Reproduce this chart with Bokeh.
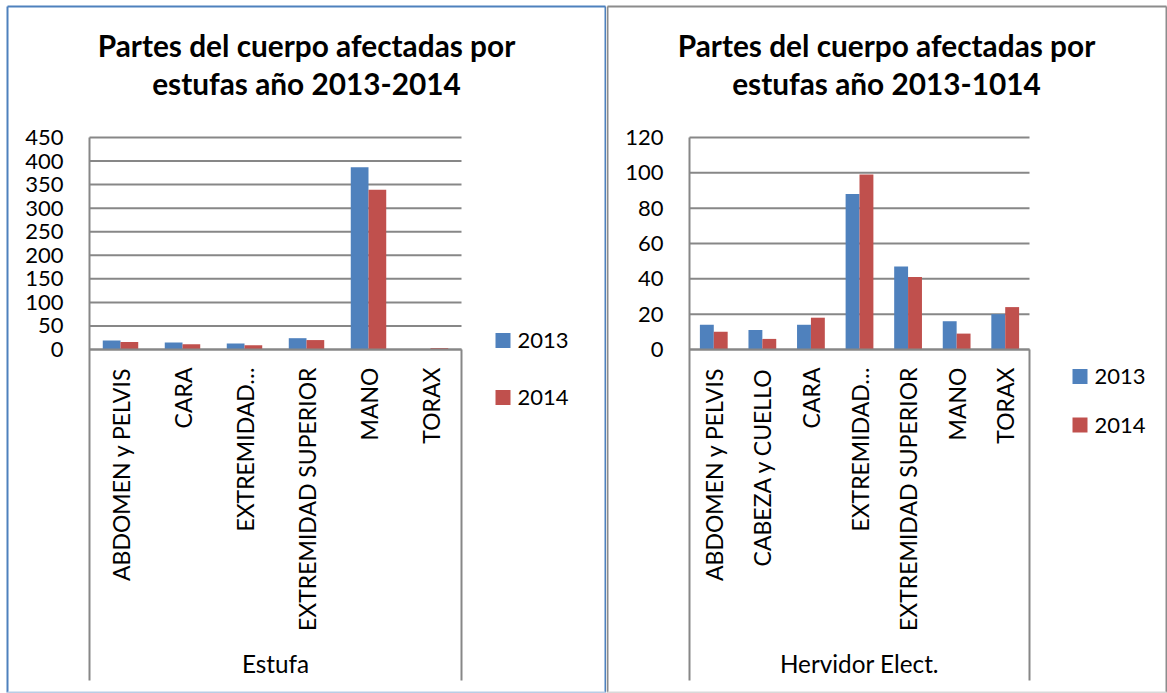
import math
from bokeh.plotting import figure
from bokeh.models import Range1d, ColumnDataSource
from bokeh.transform import dodge
from bokeh.layouts import row
from bokeh.embed import file_html
from bokeh.resources import INLINE
from bokeh.core.properties import value

# ---------------- data ----------------
years = ["2013", "2014"]

estufa_title = ["Partes del cuerpo afectadas por", "estufas año 2013-2014"]
estufa_group = "Estufa"
estufa_parts = ["ABDOMEN y PELVIS", "CARA", "EXTREMIDAD…", "EXTREMIDAD SUPERIOR", "MANO", "TORAX"]
estufa_2013 = [19, 15, 13, 24, 387, 1]
estufa_2014 = [16, 11, 9, 20, 339, 3]
estufa_ticks = [0, 50, 100, 150, 200, 250, 300, 350, 400, 450]

hervidor_title = ["Partes del cuerpo afectadas por", "estufas año 2013-1014"]
hervidor_group = "Hervidor Elect."
hervidor_parts = ["ABDOMEN y PELVIS", "CABEZA y CUELLO", "CARA", "EXTREMIDAD…",
                  "EXTREMIDAD SUPERIOR", "MANO", "TORAX"]
hervidor_2013 = [14, 11, 14, 88, 47, 16, 20]
hervidor_2014 = [10, 6, 18, 99, 41, 9, 24]
hervidor_ticks = [0, 20, 40, 60, 80, 100, 120]

# ---------------- style / layout (page pixels) ----------------
BLUE = "#4F81BD"
RED = "#C0504D"
GRID = "#878787"
FONT = value("Lato")
TICK_FS = "22px"
CAT_FS = "23px"
GROUP_FS = "24.3px"
LEG_FS = "22px"
TITLE_FS = "29.8px"
H = 693
TOP = 137        # y of the highest gridline
ZERO = 349       # y of value 0
BOTTOM = 680     # lower end of the category axis box
BAR_W = 0.286


def panel(ox, width, fx0, fx1, title, title_cx, group, parts, v13, v14, ticks,
          leg_x, leg_y, border_color, bottom_color):
    n = len(parts)
    ymax = ticks[-1]
    ppu = (ZERO - TOP) / ymax                 # pixels per value unit
    cat_px = (fx1 - fx0) / n                  # pixels per category

    def xs(px):      # page x -> x coordinate (one unit per category)
        return (px - fx0) / cat_px

    def ys(py):      # page y -> data value
        return (ZERO - py) / ppu

    p = figure(width=width, height=H, x_range=Range1d(xs(ox), xs(ox + width)),
               y_range=Range1d(ys(H), ys(0)), output_backend="svg",
               toolbar_location=None, x_axis_location=None, y_axis_location=None,
               min_border=0)
    p.outline_line_color = None
    p.background_fill_color = "white"
    p.border_fill_color = "white"
    for g in p.grid:
        g.visible = False

    pos = [i + 0.5 for i in range(n)]
    src = ColumnDataSource(dict(x=pos, label=parts, y13=v13, y14=v14))
    tsrc = ColumnDataSource(dict(y=ticks, label=[str(t) for t in ticks]))

    # horizontal gridlines at the ticks
    p.segment(x0=0, x1=n, y0="y", y1="y", source=tsrc, line_color=GRID, line_width=2)

    # bars
    p.vbar(x=dodge("x", -BAR_W / 2), top="y13", width=BAR_W, source=src,
           fill_color=BLUE, line_color=None)
    p.vbar(x=dodge("x", BAR_W / 2), top="y14", width=BAR_W, source=src,
           fill_color=RED, line_color=None)

    # axis lines: value axis (extended down around the category box),
    # category axis at 0, closing line on the right of the category box
    y_low = ys(BOTTOM)
    p.segment(x0=[0, 0, n], x1=[0, n, n], y0=[y_low, 0, y_low], y1=[ymax, 0, 0],
              line_color=GRID, line_width=2)

    # value tick labels
    p.text(x=0, y="y", text="label", source=tsrc, x_offset=-26, text_align="right",
           text_baseline="middle", text_font=FONT, text_font_size=TICK_FS,
           text_color="black")

    # category labels (vertical) and group label
    p.text(x="x", y=0, text="label", source=src, angle=math.pi / 2,
           text_align="right", text_baseline="middle", y_offset=18,
           text_font=FONT, text_font_size=CAT_FS, text_color="black")
    p.text(x=[n / 2], y=[0], text=[group], y_offset=314, text_align="center",
           text_baseline="middle", text_font=FONT, text_font_size=GROUP_FS,
           text_color="black")

    # title (two lines)
    p.text(x=[xs(title_cx)] * 2, y=[ys(45), ys(83)], text=title, text_align="center",
           text_baseline="middle", text_font=FONT, text_font_style="bold",
           text_font_size=TITLE_FS, text_color="black")

    # legend
    lx = xs(leg_x + 7.5)
    p.rect(x=[lx, lx], y=[ys(c) for c in leg_y], width=15, height=15,
           width_units="screen", height_units="screen", fill_color=[BLUE, RED],
           line_color=None)
    p.text(x=[xs(leg_x + 22)] * 2, y=[ys(c) for c in leg_y], text=years,
           text_align="left", text_baseline="middle", text_font=FONT,
           text_font_size=LEG_FS, text_color="black")

    # panel border
    bl, br, bt, bb = xs(max(ox, 6) + 1), xs(ox + width - 1), ys(6), ys(H - 1)
    p.segment(x0=[bl, bl, br], x1=[bl, br, br], y0=[bb, bt, bt], y1=[bt, bt, bb],
              line_color=border_color, line_width=2)
    p.segment(x0=[bl], x1=[br], y0=[bb], y1=[bb], line_color=bottom_color, line_width=2)
    return p


left = panel(0, 606, 89, 461, estufa_title, 306, estufa_group, estufa_parts,
             estufa_2013, estufa_2014, estufa_ticks, 495, (340, 397), "#4F81BD",
             "#B9CDE5")
right = panel(606, 561, 689, 1029, hervidor_title, 886, hervidor_group, hervidor_parts,
              hervidor_2013, hervidor_2014, hervidor_ticks, 1072, (376, 424.5),
              "#8C8C8C", "#D9D9D9")

layout = row(left, right, spacing=0)
open("out.html", "w").write(file_html(layout, INLINE))
